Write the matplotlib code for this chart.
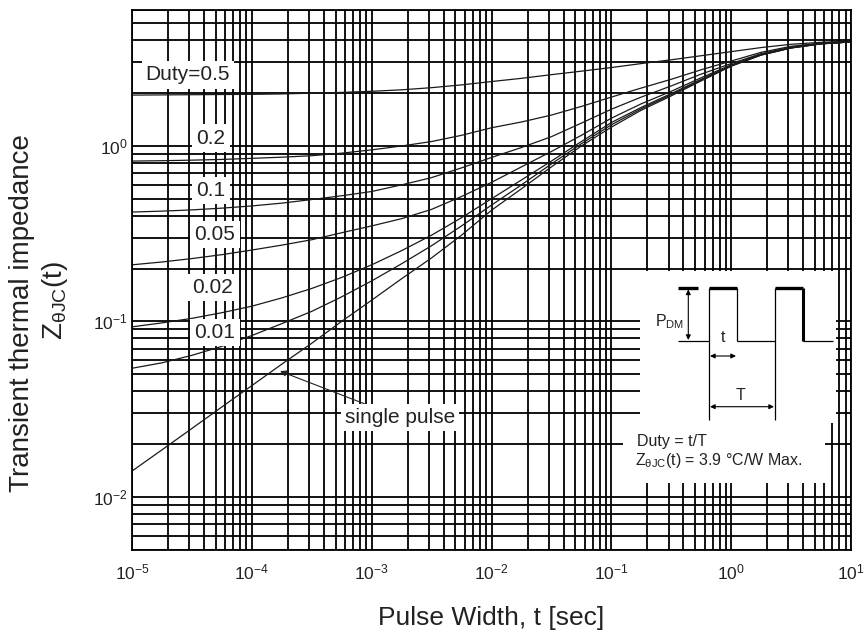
import matplotlib
matplotlib.use('Agg')
import matplotlib.pyplot as plt
from matplotlib.patches import Rectangle, FancyArrowPatch
from matplotlib.lines import Line2D
from matplotlib.ticker import FixedLocator, FixedFormatter, LogLocator, NullFormatter

# ---------------- data ----------------
t_exp = [-5, -4.75, -4.5, -4.25, -4, -3.75, -3.5, -3.25, -3, -2.75, -2.5, -2.25, -2,
         -1.75, -1.5, -1.25, -1, -0.75, -0.5, -0.25, 0, 0.25, 0.5, 0.75, 1]
pulse_width = [10.0 ** e for e in t_exp]

z_duty_05 = [1.95, 1.955, 1.96, 1.965, 1.97, 1.98, 2.00, 2.02, 2.05, 2.09, 2.15, 2.23, 2.33,
             2.43, 2.55, 2.67, 2.80, 2.95, 3.10, 3.27, 3.45, 3.64, 3.80, 3.90, 3.96]
z_duty_02 = [0.82, 0.824, 0.83, 0.838, 0.85, 0.863, 0.88, 0.91, 0.95, 1.00, 1.06, 1.15, 1.27,
             1.37, 1.50, 1.68, 1.90, 2.14, 2.40, 2.72, 3.05, 3.42, 3.70, 3.86, 3.94]
z_duty_01 = [0.42, 0.425, 0.432, 0.442, 0.455, 0.472, 0.495, 0.52, 0.55, 0.60, 0.66, 0.75, 0.86,
             0.98, 1.13, 1.35, 1.62, 1.90, 2.20, 2.57, 2.95, 3.36, 3.66, 3.84, 3.93]
z_duty_005 = [0.21, 0.218, 0.228, 0.24, 0.255, 0.272, 0.292, 0.32, 0.35, 0.385, 0.435, 0.515, 0.62,
              0.76, 0.93, 1.15, 1.44, 1.74, 2.05, 2.45, 2.90, 3.33, 3.64, 3.83, 3.92]
z_duty_002 = [0.093, 0.098, 0.104, 0.112, 0.122, 0.136, 0.154, 0.178, 0.21, 0.253, 0.31, 0.39, 0.50,
              0.64, 0.82, 1.06, 1.36, 1.66, 1.99, 2.40, 2.87, 3.31, 3.63, 3.83, 3.92]
z_duty_001 = [0.054, 0.058, 0.064, 0.072, 0.083, 0.097, 0.114, 0.138, 0.17, 0.213, 0.27, 0.35, 0.46,
              0.60, 0.79, 1.03, 1.32, 1.63, 1.96, 2.38, 2.86, 3.30, 3.62, 3.82, 3.92]
z_single = [0.014, 0.0185, 0.0245, 0.0325, 0.043, 0.057, 0.075, 0.10, 0.132, 0.175, 0.23, 0.31, 0.43,
            0.57, 0.76, 1.00, 1.28, 1.60, 1.93, 2.35, 2.85, 3.30, 3.62, 3.82, 3.92]

curves = [z_duty_05, z_duty_02, z_duty_01, z_duty_005, z_duty_002, z_duty_001, z_single]
duty_labels = ['Duty=0.5', '0.2', '0.1', '0.05', '0.02', '0.01']

x_ticks = [1e-5, 1e-4, 1e-3, 1e-2, 1e-1, 1e0, 1e1]
x_tick_labels = [r'$\mathregular{10^{-5}}$', r'$\mathregular{10^{-4}}$', r'$\mathregular{10^{-3}}$',
                 r'$\mathregular{10^{-2}}$', r'$\mathregular{10^{-1}}$', r'$\mathregular{10^{0}}$',
                 r'$\mathregular{10^{1}}$']
y_ticks = [1e-2, 1e-1, 1e0]
y_tick_labels = [r'$\mathregular{10^{-2}}$', r'$\mathregular{10^{-1}}$', r'$\mathregular{10^{0}}$']

# ---------------- style ----------------
plt.rcParams['font.family'] = ['Liberation Sans', 'DejaVu Sans']
plt.rcParams['mathtext.fontset'] = 'custom'
plt.rcParams['mathtext.rm'] = 'Liberation Sans'
plt.rcParams['mathtext.it'] = 'Liberation Sans:italic'
plt.rcParams['mathtext.bf'] = 'Liberation Sans:bold'

W, H = 865, 637
TXT = '#222222'


def fx(x):
    return x / W


def fy(y):
    return 1 - y / H


fig = plt.figure(figsize=(W / 100, H / 100), dpi=100)
ax = fig.add_axes([fx(132), fy(549.5), (851 - 132) / W, (549.5 - 9.5) / H])
ax.set_xscale('log')
ax.set_yscale('log')
ax.set_xlim(1e-5, 10)
ax.set_ylim(5e-3, 6)

ax.xaxis.set_major_locator(FixedLocator(x_ticks))
ax.xaxis.set_major_formatter(FixedFormatter(x_tick_labels))
ax.yaxis.set_major_locator(FixedLocator(y_ticks))
ax.yaxis.set_major_formatter(FixedFormatter(y_tick_labels))
ax.xaxis.set_minor_locator(LogLocator(base=10, subs=range(2, 10), numticks=50))
ax.yaxis.set_minor_locator(LogLocator(base=10, subs=range(2, 10), numticks=50))
ax.xaxis.set_minor_formatter(NullFormatter())
ax.yaxis.set_minor_formatter(NullFormatter())

ax.set_axisbelow(True)
ax.grid(True, which='both', color='black', lw=1.3)
ax.tick_params(which='both', length=0, labelsize=12.5, colors=TXT)
ax.tick_params(axis='x', pad=9)
ax.tick_params(axis='y', pad=3)
for s in ax.spines.values():
    s.set_color('black')
    s.set_linewidth(1.3)

for z in curves:
    ax.plot(pulse_width, z, color='#1a1a1a', lw=0.9, zorder=2)

# ---------------- curve labels ----------------
label_xy = [(2.93e-5, 2.54), (4.55e-5, 1.11), (4.55e-5, 0.557),
            (4.92e-5, 0.314), (4.73e-5, 0.156), (4.92e-5, 0.0865)]
box = dict(boxstyle='square,pad=0.2', fc='white', ec='none')
for lab, (x, y) in zip(duty_labels, label_xy):
    ax.text(x, y, lab, fontsize=15, ha='center', va='center', color=TXT, bbox=box, zorder=3)

ax.annotate('single pulse', xy=(1.72e-4, 0.052), xytext=(5.96e-4, 0.0283),
            fontsize=15, ha='left', va='center', color=TXT, bbox=box, zorder=3,
            arrowprops=dict(arrowstyle='-|>', color='#222222', lw=0.8, mutation_scale=9,
                            shrinkA=0, shrinkB=0))

# ---------------- inset ----------------
fig.add_artist(Rectangle((fx(640), fy(423)), (836 - 640) / W, (423 - 271) / H,
                         transform=fig.transFigure, fc='white', ec='none', zorder=1))
fig.add_artist(Rectangle((fx(623), fy(483)), (825 - 623) / W, (483 - 422) / H,
                         transform=fig.transFigure, fc='white', ec='none', zorder=1))


def seg(xs, ys, lw=0.9):
    fig.add_artist(Line2D([fx(v) for v in xs], [fy(v) for v in ys], transform=fig.transFigure,
                          color='black', lw=lw, zorder=4, solid_capstyle='butt'))


# baseline
seg([678, 709.3], [341, 341])
seg([736.7, 775], [341, 341])
seg([803.3, 833], [341, 341])
# pulse 1
seg([709.3, 709.3], [420, 288.3])
seg([709.3, 736.7], [288.3, 288.3], lw=2.4)
seg([736.7, 736.7], [288.3, 341])
# pulse 2
seg([774.6, 774.6], [420, 288.3])
seg([774.6, 803.3], [288.3, 288.3], lw=2.4)
seg([803.3, 803.3], [288.3, 341], lw=2.2)
# P_DM bar
seg([678, 698], [288.3, 288.3], lw=2.4)


def darrow(p1, p2):
    fig.add_artist(FancyArrowPatch(
        (fx(p1[0]), fy(p1[1])), (fx(p2[0]), fy(p2[1])), transform=fig.transFigure,
        arrowstyle='<|-|>', mutation_scale=7, lw=0.8, color='black', shrinkA=0, shrinkB=0,
        zorder=4))


darrow((688.3, 289.5), (688.3, 340))
darrow((710, 356), (736, 356))
darrow((710, 406.7), (774, 406.7))

fig.text(fx(670), fy(322), r'P$_{\mathregular{DM}}$', fontsize=11.5, ha='center', va='center',
         color=TXT, zorder=5)
fig.text(fx(723), fy(337), 't', fontsize=11.5, ha='center', va='center', color=TXT, zorder=5)
fig.text(fx(740), fy(396), 'T', fontsize=11.5, ha='center', va='center', color=TXT, zorder=5)
fig.text(fx(637), fy(441.7), 'Duty = t/T', fontsize=11.5, ha='left', va='center', color=TXT,
         zorder=5)
fig.text(fx(635), fy(461), r'Z$_{\mathregular{θJC}}$(t) = 3.9 °C/W Max.', fontsize=11.5,
         ha='left', va='center', color=TXT, zorder=5)

# ---------------- axis titles ----------------
fig.text(fx(22), fy(313), 'Transient thermal impedance', rotation=90, fontsize=20,
         ha='center', va='center', color=TXT)
fig.text(fx(55), fy(300), r'Z$_{\mathregular{θJC}}$(t)', rotation=90, fontsize=20,
         ha='center', va='center', color=TXT)
fig.text(fx(491), fy(618), 'Pulse Width, t [sec]', fontsize=19, ha='center', va='center',
         color=TXT)

fig.savefig('out.png', dpi=100)
